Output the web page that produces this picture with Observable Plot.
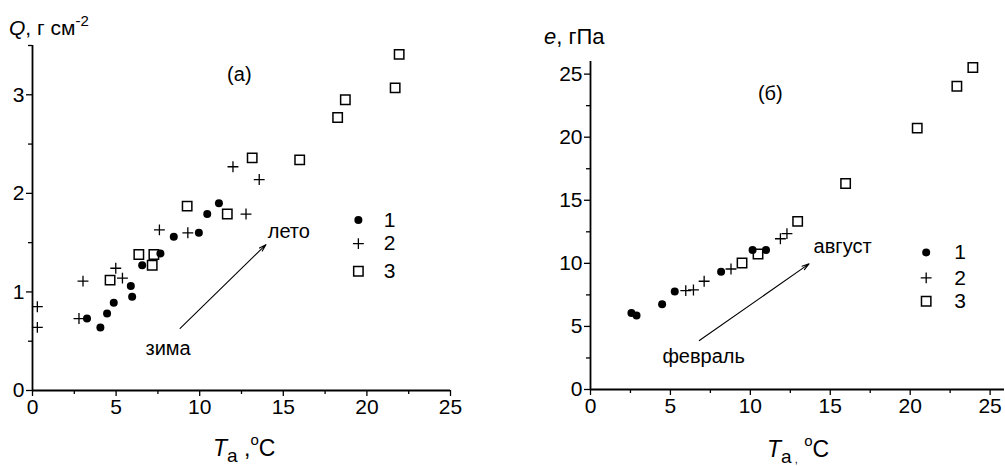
<!DOCTYPE html>
<html><head><meta charset="utf-8">
<script src="https://cdn.jsdelivr.net/npm/d3@7"></script>
<script src="https://cdn.jsdelivr.net/npm/@observablehq/plot@0.6"></script>
<style>
body{margin:0;background:#fff;}
#wrap{position:relative;width:1005px;height:466px;overflow:hidden;font-family:"Liberation Sans",Arial,sans-serif;background:#fff;}
#a{position:absolute;left:0;top:0;}
#b{position:absolute;left:500px;top:0;}
svg{overflow:visible}
</style></head><body><div id="wrap"><div id="a"></div><div id="b"></div></div>
<script>
// ---------- Panel (а): Q vs Ta ----------
const qT1 = [3.26,4.06,4.46,4.86,5.96,5.88,6.56,7.65,8.45,9.95,10.45,11.15];
const qV1 = [0.73,0.64,0.78,0.89,0.95,1.06,1.27,1.39,1.56,1.60,1.79,1.90];
const qT2 = [0.29,0.29,2.78,3.02,4.98,5.38,7.59,9.29,12.77,11.99,13.56];
const qV2 = [0.85,0.64,0.73,1.11,1.24,1.14,1.63,1.60,1.79,2.27,2.14];
const qT3 = [4.64,6.36,7.26,7.16,9.25,11.65,13.14,15.98,18.25,18.71,21.69,21.93];
const qV3 = [1.12,1.38,1.38,1.27,1.87,1.79,2.36,2.34,2.77,2.95,3.07,3.41];
const qXTicks = [0,5,10,15,20,25];
const qXMinor = [2.5,7.5,12.5,17.5,22.5];
const qYTicks = [0,1,2,3];
const qYMinor = [0.5,1.5,2.5,3.5];
const qLegendLabels = ["1","2","3"];
const qLegendT = [19.49,19.49,19.49];
const qLegendNumT = [21.35,21.35,21.35];
const qLegendV = [1.73,1.49,1.21];
const qArrow = {t1:8.83, v1:0.63, t2:13.96, v2:1.48};
const qNotes = [{t:12.37,v:3.2,s:"(а)"},{t:8.11,v:0.43,s:"зима"},{t:15.33,v:1.61,s:"лето"}];

// ---------- Panel (б): e vs Ta ----------
const eT1 = [2.56,2.88,4.48,5.27,8.17,10.14,10.98];
const eV1 = [6.07,5.86,6.76,7.76,9.34,11.06,11.06];
const eT2 = [5.96,6.44,7.11,8.79,11.88,12.29];
const eV2 = [7.84,7.89,8.58,9.55,11.95,12.36];
const eT3 = [9.48,10.48,12.96,15.96,20.44,22.92,23.92];
const eV3 = [10.03,10.74,13.33,16.33,20.72,24.04,25.52];
const eXTicks = [0,5,10,15,20,25];
const eXMinor = [2.5,7.5,12.5,17.5,22.5];
const eYTicks = [0,5,10,15,20,25];
const eYMinor = [2.5,7.5,12.5,17.5,22.5];
const eLegendLabels = ["1","2","3"];
const eLegendT = [21.0,21.0,21.0];
const eLegendNumT = [23.12,23.12,23.12];
const eLegendV = [10.86,8.85,7.0];
const eArrow = {t1:6.81, v1:3.88, t2:13.67, v2:9.96};
const eNotes = [{t:11.25,v:23.43,s:"(б)"},{t:7.08,v:2.62,s:"февраль"},{t:15.77,v:11.34,s:"август"}];

const FONT = "Liberation Sans, Arial, sans-serif";
const zip = (a,b) => a.map((t,i)=>({t, v:b[i]}));
const fmt = d => String(d);

function panel(o) {
  const s1 = zip(o.T1,o.V1), s2 = zip(o.T2,o.V2), s3 = zip(o.T3,o.V3);
  const leg = o.legLabels.map((s,i)=>({t:o.legT[i], tn:o.legNumT[i], v:o.legV[i], s, k:i}));
  const dotOpt = {r:4,fill:"black",stroke:"none"};
  const plusOpt = {symbol:"plus",r:3.6,stroke:"black",strokeWidth:1.3,fill:"none"};
  const sqOpt = {symbol:"square",r:5.3,stroke:"black",strokeWidth:1.5,fill:"none"};
  return Plot.plot({
    width:o.width, height:466,
    marginLeft:o.ml, marginRight:o.mr, marginTop:o.mt, marginBottom:o.mb,
    style:{fontFamily:FONT, fontSize:"21px", color:"black", background:"transparent", overflow:"visible"},
    x:{domain:o.xDomain},
    y:{domain:o.yDomain},
    marks:[
      Plot.axisX({ticks:o.xTicks, tickFormat:fmt, tickSize:6, tickPadding:3, fontSize:21, label:null, strokeWidth:1.3}),
      Plot.axisX({ticks:o.xMinor, tickSize:4, text:null, label:null, strokeWidth:1.3}),
      Plot.axisY({ticks:o.yTicks, tickFormat:fmt, tickSize:6, tickPadding:2, fontSize:21, label:null, strokeWidth:1.3}),
      Plot.axisY({ticks:o.yMinor, tickSize:4, text:null, label:null, strokeWidth:1.3}),
      Plot.ruleY([0],{stroke:"black",strokeWidth:1.8}),
      Plot.ruleX([0],{stroke:"black",strokeWidth:1.8}),
      Plot.arrow([o.arrow],{x1:"t1",y1:"v1",x2:"t2",y2:"v2",stroke:"black",strokeWidth:1.1,headLength:10,headAngle:32}),
      Plot.dot(s1,{x:"t",y:"v",...dotOpt}),
      Plot.dot(s2,{x:"t",y:"v",...plusOpt}),
      Plot.dot(s3,{x:"t",y:"v",...sqOpt}),
      Plot.dot(leg.filter(d=>d.k===0),{x:"t",y:"v",...dotOpt}),
      Plot.dot(leg.filter(d=>d.k===1),{x:"t",y:"v",...plusOpt}),
      Plot.dot(leg.filter(d=>d.k===2),{x:"t",y:"v",...sqOpt}),
      Plot.text(leg,{x:"tn",y:"v",text:"s",fontSize:21,fill:"black",textAnchor:"middle",lineAnchor:"middle"}),
      Plot.text(o.notes,{x:"t",y:"v",text:"s",fontSize:20,fill:"black",textAnchor:"middle",lineAnchor:"middle"})
    ]
  });
}

const pa = panel({width:500, ml:32, mr:50, mt:45, mb:76, xDomain:[0,25], yDomain:[0,3.5],
  T1:qT1,V1:qV1,T2:qT2,V2:qV2,T3:qT3,V3:qV3, xTicks:qXTicks,xMinor:qXMinor,yTicks:qYTicks,yMinor:qYMinor,
  legLabels:qLegendLabels,legT:qLegendT,legNumT:qLegendNumT,legV:qLegendV, arrow:qArrow, notes:qNotes});
const pb = panel({width:505, ml:90, mr:1, mt:61, mb:77, xDomain:[0,25.9], yDomain:[0,26],
  T1:eT1,V1:eV1,T2:eT2,V2:eV2,T3:eT3,V3:eV3, xTicks:eXTicks,xMinor:eXMinor,yTicks:eYTicks,yMinor:eYMinor,
  legLabels:eLegendLabels,legT:eLegendT,legNumT:eLegendNumT,legV:eLegendV, arrow:eArrow, notes:eNotes});
document.getElementById("a").appendChild(pa);
document.getElementById("b").appendChild(pb);

// axis titles with italic / sub / superscripts
function addText(svg, x, y, size, parts) {
  const t = d3.select(svg).append("text").attr("x",x).attr("y",y)
    .attr("text-anchor","start")
    .attr("font-family",FONT).attr("font-size",size).attr("fill","black");
  parts.forEach(p => {
    const s = t.append("tspan").text(p.s);
    if (p.it) s.attr("font-style","italic");
    if (p.fs) s.attr("font-size",p.fs);
    if (p.dy) s.attr("dy",p.dy);
  });
}
addText(pa, 9, 35, 21, [{s:"Q",it:1},{s:", г см"},{s:"-2",fs:15,dy:-9}]);
addText(pa, 213, 456, 23, [{s:"T",it:1},{s:"a",fs:19,dy:6},{s:" ,",dy:-6},{s:"o",fs:15,dy:-11},{s:"C",dy:11}]);
addText(pb, 44, 44, 22, [{s:"e",it:1},{s:", гПа"}]);
addText(pb, 267, 457, 23, [{s:"T",it:1},{s:"a",fs:19,dy:6},{s:" ,",fs:11},{s:" "},{s:"o",fs:15,dy:-17},{s:"C",dy:11}]);
</script></body></html>
